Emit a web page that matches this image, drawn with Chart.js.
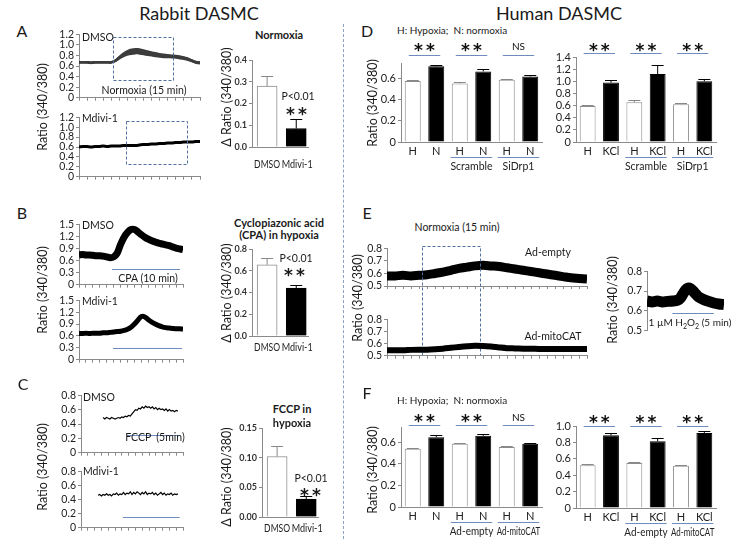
<!DOCTYPE html>
<html>
<head>
<meta charset="utf-8">
<title>DASMC Fura-2 ratio</title>
<script src="https://cdn.jsdelivr.net/npm/chart.js@4.4.1/dist/chart.umd.min.js"></script>
<style>
  html, body { margin: 0; padding: 0; background: #fff; }
  #fig { position: relative; width: 737px; height: 539px; overflow: hidden; font-family: Lato, "Open Sans", sans-serif; color: #1a1a1a; }
  .cv { position: absolute; }
  .tx { position: absolute; white-space: nowrap; line-height: 1; transform: translate(-50%, -50%); }
  .tx.l { transform: translate(0, -50%); }
  .tx.rot { transform: translate(-50%, -50%) rotate(-90deg); }
  .tx.b { font-weight: bold; }
  #sep { position: absolute; left: 343px; top: 24px; height: 515px; border-left: 1px dashed #8ea3c4; }
</style>
</head>
<body>
<div id="fig"><div id="sep"></div></div>
<script>
// ---------- Rabbit traces (time axis in arbitrary units) ----------
const tA = [0,2,4,6,8,10,12,14,16,18,20,22,24,26,28,30,32,34,36,38,40,42,44,46,48,50,52,54,56,58,60];
const aDmso = [0.67,0.67,0.67,0.66,0.67,0.67,0.67,0.67,0.67,0.70,0.76,0.81,0.85,0.87,0.88,0.875,0.86,0.845,0.83,0.815,0.80,0.79,0.785,0.78,0.775,0.765,0.75,0.73,0.70,0.67,0.66];
const aDmsoSem = [0.025,0.025,0.025,0.025,0.025,0.025,0.025,0.025,0.025,0.03,0.04,0.05,0.055,0.06,0.06,0.06,0.055,0.055,0.05,0.05,0.045,0.045,0.04,0.04,0.04,0.04,0.035,0.035,0.03,0.03,0.03];
const aMdivi = [0.60,0.61,0.61,0.60,0.61,0.61,0.62,0.61,0.62,0.62,0.62,0.63,0.63,0.63,0.63,0.64,0.65,0.65,0.66,0.66,0.67,0.67,0.68,0.68,0.69,0.69,0.70,0.70,0.70,0.71,0.71];
const bDmso = [0.74,0.75,0.74,0.74,0.73,0.72,0.72,0.71,0.69,0.67,0.69,0.78,1.00,1.18,1.30,1.37,1.37,1.31,1.24,1.18,1.13,1.09,1.06,1.03,1.01,0.99,0.97,0.94,0.91,0.89,0.87];
const bMdivi = [0.66,0.66,0.67,0.66,0.67,0.67,0.67,0.68,0.68,0.69,0.70,0.71,0.72,0.74,0.77,0.82,0.90,1.00,1.09,1.08,1.01,0.95,0.90,0.86,0.83,0.81,0.80,0.79,0.78,0.78,0.77];
const tCd = [13,14,15,16,17,18,19,20,21,22,23,24,25,26,27,28,29,30,31,32,33,34,35,36,37,38,39,40,41,42,43,44,45,46,47,48,49,50,51,52,53,54,55,56,57];
const cDmso = [0.49,0.47,0.49,0.48,0.47,0.49,0.48,0.47,0.48,0.49,0.48,0.50,0.49,0.51,0.50,0.52,0.51,0.54,0.57,0.60,0.59,0.62,0.61,0.64,0.62,0.65,0.63,0.64,0.62,0.64,0.61,0.63,0.60,0.62,0.60,0.61,0.59,0.61,0.58,0.60,0.58,0.59,0.57,0.59,0.58];
const tCm = [10,11,12,13,14,15,16,17,18,19,20,21,22,23,24,25,26,27,28,29,30,31,32,33,34,35,36,37,38,39,40,41,42,43,44,45,46,47,48,49,50,51,52,53,54,55,56,57];
const cMdivi = [0.46,0.47,0.45,0.47,0.46,0.48,0.46,0.47,0.45,0.48,0.47,0.49,0.46,0.48,0.47,0.50,0.47,0.49,0.48,0.51,0.47,0.50,0.48,0.51,0.49,0.47,0.50,0.48,0.51,0.47,0.49,0.48,0.50,0.47,0.49,0.46,0.48,0.50,0.47,0.49,0.46,0.48,0.47,0.49,0.46,0.48,0.47,0.48];

// stimulus windows [start, end] and their line levels
const normoxiaBoxA1 = [17, 46.6, 0.34, 1.14];
const normoxiaBoxA2 = [23.3, 53.6, 0.26, 1.12];
const cpaLine = [19, 58.3, 0.39];
const cpaLine2 = [19.6, 59.4, 0.3];
const fccpLine = [27, 58, 0.25];
const fccpLine2 = [24.7, 58, 0.15];

// ---------- Rabbit bar charts ----------
const rabbitLabels = ['DMSO', 'Mdivi-1'];
const normoxiaDelta = [0.28, 0.085];
const normoxiaErr = [0.325, 0.13];
const cpaDelta = [0.655, 0.44];
const cpaErr = [0.715, 0.47];
const fccpDelta = [0.102, 0.03];
const fccpErr = [0.12, 0.035];

// ---------- Human DASMC bars ----------
const hnLabels = ['H', 'N', 'H', 'N', 'H', 'N'];
const hkLabels = ['H', 'KCl', 'H', 'KCl', 'H', 'KCl'];
const sigD = ['**', '**', 'NS'];
const sigKCl = ['**', '**', '**'];
const groupsD = ['Scramble', 'SiDrp1'];
const groupsF = ['Ad-empty', 'Ad-mitoCAT'];
const dHypNorm = [0.58, 0.718, 0.555, 0.67, 0.59, 0.622];
const dHypNormErr = [0.587, 0.734, 0.571, 0.693, 0.600, 0.635];
const dKCl = [0.593, 0.978, 0.655, 1.12, 0.621, 1.0];
const dKClErr = [0.61, 1.016, 0.70, 1.27, 0.637, 1.035];
const fHypNorm = [0.538, 0.646, 0.585, 0.658, 0.554, 0.585];
const fHypNormErr = [0.543, 0.668, 0.594, 0.677, 0.56, 0.594];
const fKCl = [0.52, 0.886, 0.549, 0.813, 0.516, 0.915];
const fKClErr = [0.533, 0.911, 0.565, 0.85, 0.528, 0.943];

// ---------- Human DASMC traces (panel E) ----------
const tE = [0,2,4,6,8,10,12,14,16,18,20,22,24,26,28,30,32,34,36,38,40,42,44,46,48,50];
const eEmpty = [0.58,0.58,0.585,0.58,0.585,0.59,0.60,0.61,0.625,0.64,0.65,0.66,0.665,0.66,0.655,0.645,0.635,0.625,0.615,0.605,0.595,0.585,0.575,0.565,0.56,0.555];
const eMito = [0.545,0.545,0.545,0.548,0.55,0.55,0.553,0.558,0.565,0.572,0.578,0.582,0.58,0.575,0.568,0.562,0.56,0.558,0.557,0.556,0.556,0.555,0.555,0.555,0.556,0.556];
const normoxiaBoxE = [8.75, 23.25, null, 0.816];
const tH = [0,4,8,12,16,20,24,26,28,30,32,34,36,38,40,44,48,52,56,60];
const h2o2 = [0.65,0.645,0.65,0.645,0.648,0.65,0.655,0.665,0.685,0.705,0.715,0.712,0.70,0.685,0.672,0.658,0.648,0.64,0.635,0.632];
const h2o2Line = [19.7, 52, 0.59];

Chart.defaults.font.family = 'Lato, "Open Sans", sans-serif';
Chart.defaults.color = '#222';
Chart.defaults.animation = false;

const fig = document.getElementById('fig');
const AXIS = '#8a8a8a';
const BLUE = '#6e8cbd';

function canvasAt(plot, pad) {
    const d = document.createElement('div');
    d.className = 'cv';
    d.style.left = (plot[0] - pad[0]) + 'px';
    d.style.top = (plot[1] - pad[1]) + 'px';
    d.style.width = (plot[2] - plot[0] + pad[0] + pad[2]) + 'px';
    d.style.height = (plot[3] - plot[1] + pad[1] + pad[3]) + 'px';
    const c = document.createElement('canvas');
    d.appendChild(c);
    fig.appendChild(d);
    return c;
}

function txt(s, x, y, size, cls, extra) {
    const e = document.createElement('div');
    e.className = 'tx ' + (cls || '');
    e.style.left = x + 'px';
    e.style.top = y + 'px';
    e.style.fontSize = size + 'px';
    if (extra) e.style.cssText += extra;
    e.innerHTML = s;
    fig.appendChild(e);
}

const fmt1 = v => (Math.abs(v) < 1e-9 ? '0' : v.toFixed(1));

function traceMarks(o) {
    return {
        id: 'traceMarks',
        afterDatasetsDraw(chart) {
            const { ctx, scales: { x, y } } = chart;
            ctx.save();
            if (o.box) {
                const b = o.box;
                const L = Math.round(x.getPixelForValue(b[0])) + 0.5;
                const R = Math.round(x.getPixelForValue(b[1])) + 0.5;
                const T = Math.round(y.getPixelForValue(b[3])) + 0.5;
                const B = b[2] === null ? chart.height - 0.5 : Math.round(y.getPixelForValue(b[2])) + 0.5;
                ctx.strokeStyle = '#4f6f9f';
                ctx.lineWidth = 1;
                ctx.setLineDash([3, 2]);
                ctx.strokeRect(L, T, R - L, B - T);
            }
            if (o.stim) {
                const s = o.stim;
                const yy = Math.round(y.getPixelForValue(s[2])) + 0.5;
                ctx.setLineDash([]);
                ctx.strokeStyle = BLUE;
                ctx.lineWidth = 1.2;
                ctx.beginPath();
                ctx.moveTo(x.getPixelForValue(s[0]), yy);
                ctx.lineTo(x.getPixelForValue(s[1]), yy);
                ctx.stroke();
            }
            ctx.restore();
        }
    };
}

function traceChart(plot, o) {
    const pad = [30, 8, 4, o.padBottom || 8];
    const pts = (arr) => o.t.map((t, i) => ({ x: t, y: arr[i] }));
    const datasets = [];
    if (o.sem) {
        datasets.push({ data: o.t.map((t, i) => ({ x: t, y: o.y[i] + o.sem[i] })), borderWidth: 0, pointRadius: 0, tension: 0.3, fill: false });
        datasets.push({ data: o.t.map((t, i) => ({ x: t, y: o.y[i] - o.sem[i] })), borderWidth: 0, pointRadius: 0, tension: 0.3, fill: '-1', backgroundColor: '#3c3c3c' });
    }
    datasets.push({ data: pts(o.y), borderColor: '#000', borderWidth: o.lw, pointRadius: 0, tension: o.tension === undefined ? 0.3 : o.tension, fill: false });
    const noX = !!o.noX;
    new Chart(canvasAt(plot, pad), {
        type: 'line',
        data: { datasets },
        options: {
            responsive: true, maintainAspectRatio: false, events: [],
            layout: { padding: { left: 0, top: pad[1], right: pad[2], bottom: 0 } },
            plugins: { legend: { display: false }, tooltip: { enabled: false } },
            scales: {
                x: {
                    type: 'linear', min: 0, max: o.xMax, offset: false,
                    ticks: { stepSize: o.xStep, maxTicksLimit: 100, autoSkip: false, callback: () => '' },
                    grid: { display: !noX, drawOnChartArea: false, tickLength: 3, color: AXIS },
                    border: { display: !noX, color: AXIS },
                    afterFit: s => { s.height = pad[3]; }
                },
                y: {
                    min: o.yMin, max: o.yMax,
                    ticks: { stepSize: o.yStep, maxTicksLimit: 100, autoSkip: false, font: { size: 10.5 }, color: '#222', padding: 2, callback: fmt1 },
                    grid: { drawOnChartArea: false, tickLength: 3, color: AXIS },
                    border: { color: AXIS },
                    afterFit: s => { s.width = pad[0]; }
                }
            }
        },
        plugins: [traceMarks(o)]
    });
}

function errorBars(chart, errs, cap) {
    const { ctx, scales: { y } } = chart;
    const bars = chart.getDatasetMeta(0).data;
    bars.forEach((b, i) => {
        const top = Math.round(y.getPixelForValue(errs[i])) + 0.5;
        ctx.strokeStyle = i % 2 ? '#000' : '#888';
        ctx.lineWidth = 1;
        ctx.beginPath();
        ctx.moveTo(b.x, b.y);
        ctx.lineTo(b.x, top);
        ctx.moveTo(b.x - cap, top);
        ctx.lineTo(b.x + cap, top);
        ctx.stroke();
    });
}

function humanBars(plot, o) {
    const pad = [26, 26, 4, 34];
    const extras = {
        id: 'humanExtras',
        afterDatasetsDraw(chart) {
            const { ctx, chartArea, scales: { x } } = chart;
            ctx.save();
            errorBars(chart, o.errs, 6);
            o.sig.forEach((s, k) => {
                const xa = x.getPixelForValue(2 * k) - 4;
                const xb = x.getPixelForValue(2 * k + 1) + 4;
                const ly = Math.round(chartArea.top + o.sigLine) + 0.5;
                ctx.strokeStyle = BLUE;
                ctx.lineWidth = 1;
                ctx.beginPath();
                ctx.moveTo(xa, ly);
                ctx.lineTo(xb, ly);
                ctx.stroke();
                ctx.fillStyle = '#111';
                ctx.textAlign = 'center';
                const cx = (xa + xb) / 2;
                const cy = chartArea.top + o.sigText;
                if (s === 'NS') {
                    ctx.font = '10px Lato, sans-serif';
                    ctx.textBaseline = 'middle';
                    ctx.fillText(s, cx, cy);
                } else {
                    ctx.font = 'bold 17px "DejaVu Sans", sans-serif';
                    ctx.textBaseline = 'alphabetic';
                    ctx.letterSpacing = '3px';
                    ctx.fillText(s, cx + 1.5, cy + 9);
                    ctx.letterSpacing = '0px';
                }
            });
            o.groups.forEach((g, k) => {
                const i0 = 2 + 2 * k;
                const xa = x.getPixelForValue(i0) - 9;
                const xb = x.getPixelForValue(i0 + 1) + 9;
                const ly = Math.round(chartArea.bottom + 15) + 0.5;
                ctx.strokeStyle = BLUE;
                ctx.lineWidth = 1;
                ctx.beginPath();
                ctx.moveTo(xa, ly);
                ctx.lineTo(xb, ly);
                ctx.stroke();
                ctx.fillStyle = '#222';
                ctx.font = '10.5px Lato, sans-serif';
                ctx.textAlign = 'center';
                ctx.textBaseline = 'middle';
                ctx.fillText(g, (xa + xb) / 2, chartArea.bottom + 25, xb - xa + 2);
            });
            ctx.restore();
        }
    };
    new Chart(canvasAt(plot, pad), {
        type: 'bar',
        data: {
            labels: o.labels,
            datasets: [{
                data: o.values,
                backgroundColor: o.values.map((v, i) => (i % 2 ? '#000' : '#fff')),
                borderColor: o.values.map((v, i) => (i % 2 ? '#000' : '#8c8c8c')),
                borderWidth: 1,
                barPercentage: 0.68,
                categoryPercentage: 1
            }]
        },
        options: {
            responsive: true, maintainAspectRatio: false, events: [],
            layout: { padding: { left: 0, top: pad[1], right: pad[2], bottom: 0 } },
            plugins: { legend: { display: false }, tooltip: { enabled: false } },
            scales: {
                x: {
                    ticks: { font: { size: 11 }, color: '#222', padding: 3, autoSkip: false, maxRotation: 0 },
                    grid: { display: false, drawTicks: false },
                    border: { color: AXIS },
                    afterFit: s => { s.height = pad[3]; }
                },
                y: {
                    min: 0, max: o.yMax,
                    ticks: { stepSize: 0.2, includeBounds: false, maxTicksLimit: 100, autoSkip: false, font: { size: 11 }, color: '#222', padding: 2, callback: fmt1 },
                    grid: { drawOnChartArea: false, tickLength: 3, color: AXIS },
                    border: { color: AXIS },
                    afterFit: s => { s.width = pad[0]; }
                }
            }
        },
        plugins: [extras]
    });
}

const rabbitPos = [2.7, 7.9];
const rabbitLabelWidth = [26, 31];
function rabbitBars(plot, o) {
    const pad = [26, 8, 6, 26];
    const extras = {
        id: 'rabbitExtras',
        afterDatasetsDraw(chart) {
            const { ctx, chartArea } = chart;
            ctx.save();
            errorBars(chart, o.errs, 6);
            ctx.fillStyle = '#222';
            ctx.font = '10.5px Lato, sans-serif';
            ctx.textAlign = 'center';
            ctx.textBaseline = 'middle';
            chart.getDatasetMeta(0).data.forEach((b, i) => {
                ctx.fillText(rabbitLabels[i], b.x + i, chartArea.bottom + o.gap, rabbitLabelWidth[i]);
            });
            ctx.restore();
        }
    };
    new Chart(canvasAt(plot, pad), {
        type: 'bar',
        data: {
            datasets: [{
                data: o.values.map((v, i) => ({ x: rabbitPos[i], y: v })),
                backgroundColor: ['#fff', '#000'],
                borderColor: ['#8c8c8c', '#000'],
                borderWidth: 1,
                barThickness: 20
            }]
        },
        options: {
            responsive: true, maintainAspectRatio: false, events: [],
            layout: { padding: { left: 0, top: pad[1], right: pad[2], bottom: 0 } },
            plugins: { legend: { display: false }, tooltip: { enabled: false } },
            scales: {
                x: {
                    type: 'linear', min: 0, max: 10, offset: false,
                    ticks: { display: false },
                    grid: { display: false, drawTicks: false },
                    border: { color: AXIS },
                    afterFit: s => { s.height = pad[3]; }
                },
                y: {
                    min: 0, max: o.yMax,
                    ticks: { stepSize: o.step, maxTicksLimit: 100, autoSkip: false, font: { size: 9, weight: 'bold' }, color: '#333', padding: 2, callback: v => v.toFixed(o.dec) },
                    grid: { drawOnChartArea: false, tickLength: 3, color: AXIS },
                    border: { color: AXIS },
                    afterFit: s => { s.width = pad[0]; }
                }
            }
        },
        plugins: [extras]
    });
}

// ---------- Rabbit DASMC ----------
traceChart([79, 34, 200, 98], { t: tA, y: aDmso, sem: aDmsoSem, lw: 2.5, xMax: 60, xStep: 4, yMin: 0, yMax: 1.2, yStep: 0.2, box: normoxiaBoxA1 });
traceChart([79, 117, 200, 177], { t: tA, y: aMdivi, lw: 3, xMax: 60, xStep: 4, yMin: 0, yMax: 1.2, yStep: 0.2, box: normoxiaBoxA2 });
traceChart([79, 224, 183, 285], { t: tA, y: bDmso, lw: 7, xMax: 60, xStep: 4, yMin: 0, yMax: 1.5, yStep: 0.3, stim: cpaLine });
traceChart([79, 300, 183, 360], { t: tA, y: bMdivi, lw: 5, xMax: 60, xStep: 4, yMin: 0, yMax: 1.5, yStep: 0.3, stim: cpaLine2 });
traceChart([81, 395, 183, 453], { t: tCd, y: cDmso, lw: 1.2, tension: 0, xMax: 60, xStep: 4, yMin: 0, yMax: 0.8, yStep: 0.2, stim: fccpLine });
traceChart([81, 471, 183, 528], { t: tCm, y: cMdivi, lw: 1.2, tension: 0, xMax: 60, xStep: 4, yMin: 0, yMax: 0.8, yStep: 0.2, stim: fccpLine2 });

rabbitBars([252, 60, 308, 147], { values: normoxiaDelta, errs: normoxiaErr, yMax: 0.4, step: 0.1, dec: 1, gap: 18 });
rabbitBars([252, 249, 308, 336], { values: cpaDelta, errs: cpaErr, yMax: 0.8, step: 0.2, dec: 1, gap: 12 });
rabbitBars([262, 428, 318, 517], { values: fccpDelta, errs: fccpErr, yMax: 0.15, step: 0.05, dec: 2, gap: 12 });

// ---------- Human DASMC ----------
humanBars([401, 63, 542, 142], { labels: hnLabels, values: dHypNorm, errs: dHypNormErr, yMax: 0.75, sig: sigD, groups: groupsD, sigLine: -8, sigText: -16 });
humanBars([576, 57, 716, 142], { labels: hkLabels, values: dKCl, errs: dKClErr, yMax: 1.4, sig: sigKCl, groups: groupsD, sigLine: -4, sigText: -10 });
humanBars([401, 427, 542, 507], { labels: hnLabels, values: fHypNorm, errs: fHypNormErr, yMax: 0.74, sig: sigD, groups: groupsF, sigLine: -2, sigText: -9 });
humanBars([576, 426, 716, 508], { labels: hkLabels, values: fKCl, errs: fKClErr, yMax: 1.0, sig: sigKCl, groups: groupsF, sigLine: 0, sigText: -7 });

traceChart([387, 248, 587, 286], { t: tE, y: eEmpty, lw: 9, xMax: 50, xStep: 2, yMin: 0.5, yMax: 0.8, yStep: 0.1, box: normoxiaBoxE, padBottom: 70 });
traceChart([387, 319, 587, 356], { t: tE, y: eMito, lw: 6, xMax: 50, xStep: 2, yMin: 0.5, yMax: 0.8, yStep: 0.1 });
traceChart([647, 271, 724, 331], { t: tH, y: h2o2, lw: 11, xMax: 60, xStep: 4, yMin: 0.5, yMax: 0.8, yStep: 0.1, stim: h2o2Line, noX: true });

// ---------- Text ----------
txt('Rabbit DASMC', 199, 13, 18);
txt('Human DASMC', 559, 13, 18);
txt('A', 22, 31, 16); txt('B', 22, 213, 16); txt('C', 23, 384, 16);
txt('D', 367, 31, 16); txt('E', 367, 213, 16); txt('F', 367, 393, 16);

txt('Ratio (340/380)', 43, 107, 12.5, 'rot');
txt('Ratio (340/380)', 43, 290, 12.5, 'rot');
txt('Ratio (340/380)', 43, 467, 12.5, 'rot');
txt('DMSO', 82, 37, 10.5, 'l');
txt('Mdivi-1', 82, 118, 10.5, 'l');
txt('Normoxia (15 min)', 144, 90, 10.5);
txt('DMSO', 82, 225, 10.5, 'l');
txt('Mdivi-1', 82, 301, 10.5, 'l');
txt('CPA (10 min)', 148, 278, 10.5);
txt('DMSO', 83, 397, 10.5, 'l');
txt('FCCP&nbsp; (5min)', 155, 437, 10.5);
txt('Mdivi-1', 83, 471, 10.5, 'l');

txt('Normoxia', 279, 34, 11, 'b');
txt('Cyclopiazonic acid', 279, 222, 11, 'b');
txt('(CPA) in hypoxia', 279, 234, 11, 'b');
txt('FCCP in', 292, 408, 11, 'b');
txt('hypoxia', 292, 422, 11, 'b');
txt('&Delta; Ratio (340/380)', 227, 97, 12.5, 'rot');
txt('&Delta; Ratio (340/380)', 227, 293, 12.5, 'rot');
txt('&Delta; Ratio (340/380)', 227, 477, 12.5, 'rot');
txt('P&lt;0.01', 298, 96, 10.5);
txt('**', 298, 114, 17, 'b', 'letter-spacing:3px;font-family:"DejaVu Sans",sans-serif;');
txt('P&lt;0.01', 296, 258, 10.5);
txt('**', 296, 275, 17, 'b', 'letter-spacing:3px;font-family:"DejaVu Sans",sans-serif;');
txt('P&lt;0.01', 311, 478, 10.5);
txt('**', 312, 495, 17, 'b', 'letter-spacing:3px;font-family:"DejaVu Sans",sans-serif;');

txt('H: Hypoxia;&nbsp; N: normoxia', 397, 30, 10, 'l');
txt('H: Hypoxia;&nbsp; N: normoxia', 397, 400, 10, 'l');
txt('Ratio (340/380)', 373, 103, 12.5, 'rot');
txt('Ratio (340/380)', 373, 470, 12.5, 'rot');
txt('Normoxia (15 min)', 457, 227, 10.5);
txt('Ad-empty', 548, 252, 10.5);
txt('Ad-mitoCAT', 553, 336, 10.5);
txt('Ratio (340/380)', 358, 298, 12.5, 'rot');
txt('Ratio (340/380)', 613, 300, 12.5, 'rot');
txt('1 &micro;M H<sub style="font-size:7px">2</sub>O<sub style="font-size:7px">2</sub> (5 min)', 690, 323, 10);
</script>
</body>
</html>
